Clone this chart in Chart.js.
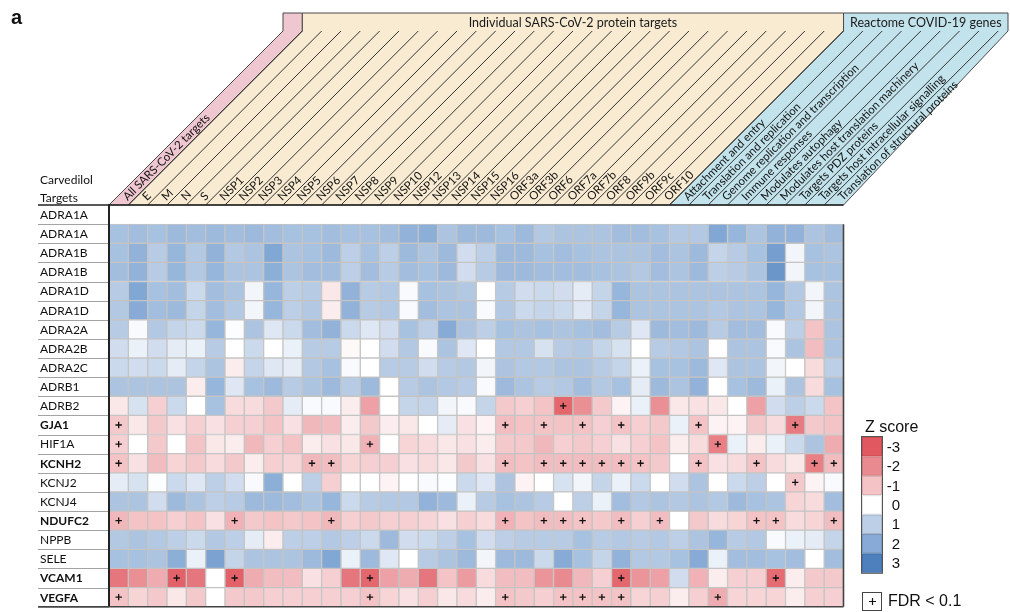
<!DOCTYPE html>
<html>
<head>
<meta charset="utf-8">
<script src="https://cdn.jsdelivr.net/npm/chart.js@4.4.1/dist/chart.umd.min.js"></script>
<style>
  html, body { margin: 0; padding: 0; background: #ffffff; }
  #wrap { width: 1010px; height: 612px; position: relative; }
</style>
</head>
<body>
<div id="wrap"><canvas id="heat" width="1010" height="612"></canvas></div>
<script>
// ---- column categories (SARS-CoV-2 target sets) ----
const columns = ['All SARS-CoV-2 targets','E','M','N','S','NSP1','NSP2','NSP3','NSP4','NSP5','NSP6','NSP7','NSP8','NSP9','NSP10','NSP12','NSP13','NSP14','NSP15','NSP16','ORF3a','ORF3b','ORF6','ORF7a','ORF7b','ORF8','ORF9b','ORF9c','ORF10','Attachment and entry','Translation and replication','Genome replication and transcription','Immune responses','Modulates autophagy','Modulates host translation machinery','Targets PDZ proteins','Targets host intracellular signalling','Translation of structural proteins'];

// ---- column groups shown in the slanted header ----
const groupNames = ['', 'Individual SARS-CoV-2 protein targets', 'Reactome COVID-19 genes'];
const groupStart = [0, 1, 29];
const groupEnd = [1, 29, 38];
const groupFill = ['#efc7d0', '#f8ebd2', '#c2e2ec'];

// ---- row categories (carvedilol targets) ----
const rowLabels = ['ADRA1A','ADRA1A','ADRA1B','ADRA1B','ADRA1D','ADRA1D','ADRA2A','ADRA2B','ADRA2C','ADRB1','ADRB2','GJA1','HIF1A','KCNH2','KCNJ2','KCNJ4','NDUFC2','NPPB','SELE','VCAM1','VEGFA'];
const boldRows = ['GJA1','KCNH2','NDUFC2','VCAM1','VEGFA'];

// ---- Z scores, one array per target row ----
const zADRA1A_1 = new Array(38).fill(null);
const zADRA1A_2 = [1.4,1.5,1.4,1.6,1.5,1.6,1.5,1.6,1.5,1.4,1.4,1.5,1.4, 1.4,1.5,1.8,1.9,1.3,1.6,1.6,1.4,1.6,1.2,1.3,1.3, 1.3,1.5,1.5,1.4,1.2,1.2,2.1,1.7,1.3,1.8,1.8,1.3,1.5];
const zADRA1B_1 = [1.4,1.8,1.1,1.7,1.2,1.8,1.2,1.3,2.1,1.3,1.4,1.6,1.0, 1.4,1.0,1.6,1.3,1.6,0.7,1.0,1.6,1.6,1.4,1.5,1.4, 1.3,1.3,1.3,1.5,1.3,1.6,0.9,1.1,1.4,2.3,0.2,1.4,1.3];
const zADRA1B_2 = [1.5,1.8,1.1,1.7,1.2,1.7,1.3,1.3,1.9,1.3,1.5,1.5,1.0, 1.5,1.1,1.5,1.4,1.6,0.7,1.1,1.6,1.6,1.5,1.5,1.5, 1.4,1.3,1.2,1.5,1.3,1.6,1.0,1.1,1.3,2.5,0.2,1.4,1.4];
const zADRA1D_1 = [1.1,2.1,1.4,1.5,0.8,1.5,1.3,0.2,1.7,1.0,1.1,-0.4,1.8, 1.1,1.2,0.1,1.4,1.3,1.2,0.0,1.1,0.7,0.8,0.7,0.4, 0.9,1.7,1.3,1.3,1.3,1.3,1.3,1.3,1.3,1.7,1.2,0.2,1.3];
const zADRA1D_2 = [1.2,2.0,1.5,1.6,0.9,1.5,1.2,0.2,1.7,1.0,1.2,-0.3,1.8, 1.1,1.2,0.1,1.5,1.3,1.3,0.1,1.2,0.8,0.9,0.8,0.5, 0.9,1.7,1.3,1.3,1.3,1.3,1.2,1.3,1.3,1.7,1.2,0.2,1.3];
const zADRA2A = [1.1,0.1,1.2,0.9,0.8,1.7,0.05,1.3,0.5,0.8,1.5,1.8,0.8, 0.5,0.7,1.4,1.0,2.0,1.3,1.0,1.4,1.3,1.4,1.3,1.4, 1.5,1.1,0.5,1.6,1.5,1.6,1.1,1.5,1.5,0.1,1.0,-1.0,1.3];
const zADRA2B = [0.7,0.3,0.7,0.4,0.3,1.1,0.0,0.8,0.0,0.3,1.1,1.1,-0.1, 0.0,0.7,1.2,0.1,1.3,0.5,0.0,1.2,1.2,0.6,1.1,1.2, 0.9,0.6,0.0,1.1,1.2,1.3,0.0,1.3,1.3,0.1,1.3,-1.1,1.3];
const zADRA2C = [0.8,0.7,0.8,0.4,0.9,1.3,-0.3,0.9,0.5,0.4,1.2,1.4,0.1, 0.0,1.1,1.1,0.7,1.1,1.2,0.2,1.3,1.2,1.2,1.3,1.3, 1.1,0.9,0.3,1.4,1.4,1.6,0.5,1.3,1.3,0.2,0.0,-0.6,1.0];
const zADRB1 = [1.3,1.3,1.3,1.3,-0.3,1.7,0.5,1.4,1.6,1.1,1.3,1.6,1.1, 1.6,0.0,1.1,1.3,1.2,1.1,0.1,1.6,1.3,1.1,1.2,1.5, 1.2,1.4,0.4,1.6,1.3,1.8,0.0,1.4,1.6,0.3,1.3,-0.6,1.4];
const zADRB2 = [-0.4,0.6,-0.8,0.8,0.0,1.4,-0.6,-0.6,-0.9,0.4,0.1,0.1,-0.3, -1.6,0.0,0.9,0.9,0.2,0.1,0.9,-0.9,-0.8,-1.0,-2.7,-1.9, -0.9,-0.2,0.3,-1.9,-0.4,-0.5,-0.4,0.0,-1.6,0.7,1.0,0.8,-1.0];
const zGJA1 = [-0.9,-0.4,-0.9,-0.5,-0.8,-0.5,-0.8,-0.8,-1.0,-0.5,-1.2,-1.1,-0.3, -0.9,-0.3,-0.4,0.0,0.4,-0.5,-0.2,-1.1,-1.0,-1.0,-1.0,-1.0, -0.8,-1.0,-0.8,-0.9,0.3,-1.0,-0.2,-0.2,-0.9,-0.6,-2.3,-0.9,-1.0];
const zHIF1A = [-0.8,0.0,-0.9,0.0,-1.0,-0.4,-0.3,-1.2,-0.8,-1.0,-0.3,-0.5,-0.4, -1.3,0.0,-0.7,-0.6,-0.4,-0.5,-0.3,-0.9,-0.9,-1.2,-0.8,-0.9, -0.8,-0.5,-0.8,-1.0,-0.3,-0.6,-2.2,0.3,-0.3,0.3,0.8,1.3,-1.4];
const zKCNH2 = [-1.0,-0.5,-1.1,-0.7,-0.9,-0.6,-0.9,-0.3,-0.8,-0.7,-1.2,-1.1,-0.7, -0.8,-0.8,-0.5,-0.6,-0.4,-0.9,-0.5,-1.1,-1.0,-1.1,-1.1,-1.1, -1.1,-1.1,-1.0,-0.9,0.0,-1.0,-0.5,-0.6,-1.0,-0.6,-0.4,-2.2,-1.1];
const zKCNJ2 = [0.4,0.6,0.05,0.8,0.5,1.0,0.7,0.1,1.9,0.0,1.0,-0.8,0.0, 0.0,-0.2,0.0,0.1,0.05,0.8,0.5,1.3,-0.2,0.0,0.6,0.2, 0.9,0.3,0.8,0.0,0.7,1.3,0.0,0.8,1.0,0.0,-0.9,-0.2,0.1];
const zKCNJ4 = [1.3,1.3,0.7,1.6,1.3,1.0,1.1,1.6,1.6,1.5,1.3,1.7,0.8, 1.1,1.2,1.2,1.8,1.6,0.3,1.1,1.4,1.3,1.1,0.0,1.0, 0.3,1.5,1.2,1.3,1.2,1.3,1.2,1.6,1.4,1.3,-0.7,-0.6,1.5];
const zNDUFC2 = [-1.2,-1.0,-1.0,-0.8,-1.0,-0.5,-1.3,-0.9,-1.0,-0.9,-1.0,-1.2,-0.8, -0.9,-0.8,-0.8,-0.7,-0.5,-0.8,-0.6,-1.3,-1.0,-1.1,-1.1,-1.0, -0.9,-1.1,-0.8,-1.1,0.0,-0.9,-0.6,-0.7,-1.0,-1.0,-0.6,-0.7,-1.1];
const zNPPB = [1.2,1.3,1.2,1.0,0.8,1.2,1.0,0.4,-0.3,1.0,1.0,1.2,1.0, 0.8,1.6,0.7,0.8,1.0,1.4,0.7,1.0,1.1,1.1,1.1,1.4, 1.1,1.2,1.1,1.2,1.0,1.3,1.7,1.1,1.2,0.1,0.3,0.4,0.9];
const zSELE = [1.4,1.4,1.3,1.9,0.3,2.2,0.9,1.3,1.3,1.3,1.6,2.1,0.3, 1.6,0.5,0.0,1.1,1.3,1.6,0.2,1.6,1.6,0.8,2.0,1.4, 0.9,1.8,1.2,1.2,1.4,2.0,0.3,1.5,1.5,1.4,1.5,0.0,1.5];
const zVCAM1 = [-2.4,-1.9,-1.4,-2.8,-2.4,0.0,-2.8,-1.4,-1.1,-1.1,-0.5,-0.8,-2.4, -2.7,-1.6,-1.4,-2.4,-1.0,-1.7,-0.6,-1.1,-1.1,-1.8,-2.0,-1.2, -0.8,-2.7,-1.8,-1.6,0.7,-1.3,-0.3,-0.8,-0.8,-2.6,-0.3,-0.9,-0.9];
const zVEGFA = [-1.0,-0.7,-0.9,-0.4,-0.9,0.0,-0.9,-0.9,-0.8,-0.8,-0.8,-0.8,-0.8, -1.0,-0.7,-0.5,-0.8,-0.4,-0.6,-0.3,-1.0,-0.9,-0.8,-1.0,-1.0, -1.0,-1.0,-0.7,-0.8,-0.3,-0.8,-1.4,-0.7,-0.7,-0.7,-0.3,-0.8,-0.8];

const zRows = [zADRA1A_1, zADRA1A_2, zADRA1B_1, zADRA1B_2, zADRA1D_1, zADRA1D_2, zADRA2A, zADRA2B, zADRA2C, zADRB1, zADRB2, zGJA1, zHIF1A, zKCNH2, zKCNJ2, zKCNJ4, zNDUFC2, zNPPB, zSELE, zVCAM1, zVEGFA];

// ---- columns with FDR < 0.1, per row ----
const fdrADRB2 = [23];
const fdrGJA1 = [0, 20, 22, 24, 26, 30, 35];
const fdrHIF1A = [0, 13, 31];
const fdrKCNH2 = [0, 10, 11, 20, 22, 23, 24, 25, 26, 27, 30, 33, 36, 37];
const fdrKCNJ2 = [35];
const fdrNDUFC2 = [0, 6, 11, 20, 22, 23, 24, 26, 28, 33, 34, 37];
const fdrVCAM1 = [3, 6, 13, 26, 34];
const fdrVEGFA = [0, 13, 20, 23, 24, 25, 26, 31];
const fdrRows = [[10, fdrADRB2], [11, fdrGJA1], [12, fdrHIF1A], [13, fdrKCNH2], [14, fdrKCNJ2], [16, fdrNDUFC2], [19, fdrVCAM1], [20, fdrVEGFA]];

// ---- colour scale ----
const legendTicks = [-3, -2, -1, 0, 1, 2, 3];
const tickColors = [[226,88,96],[233,138,144],[243,195,198],[255,255,255],[189,207,230],[135,171,214],[78,128,190]];

function zColor(v) {
  const t = Math.max(-3, Math.min(3, v));
  let i = 0;
  while (i < legendTicks.length - 2 && t > legendTicks[i + 1]) i++;
  const f = (t - legendTicks[i]) / (legendTicks[i + 1] - legendTicks[i]);
  const a = tickColors[i], b = tickColors[i + 1];
  const c = a.map((x, k) => Math.round(x + (b[k] - x) * f));
  return 'rgb(' + c.join(',') + ')';
}

const FONT = 'Lato, "Open Sans", sans-serif';
const headTop = 13, slantTop = 31, rightEdge = 1008, labelLeft = 40, tableLeft = 38;

const decorPlugin = {
  id: 'decor',
  afterDraw(chart) {
    const ctx = chart.ctx;
    const area = chart.chartArea;
    const ys = chart.scales.y;
    const n = columns.length;
    const cw = (area.right - area.left) / n;
    const bx = b => area.left + b * cw;
    const top = area.top;
    const S = top - slantTop;

    ctx.save();
    // group bands
    for (let g = 0; g < groupNames.length; g++) {
      const a = groupStart[g], b = groupEnd[g];
      const xr = Math.min(bx(b) + S, rightEdge);
      ctx.beginPath();
      ctx.moveTo(bx(a), top);
      ctx.lineTo(bx(a) + S, slantTop);
      ctx.lineTo(bx(a) + S, headTop);
      ctx.lineTo(xr, headTop);
      ctx.lineTo(xr, slantTop);
      ctx.lineTo(bx(b), top);
      ctx.closePath();
      ctx.fillStyle = groupFill[g];
      ctx.fill();
      ctx.strokeStyle = '#4a4a4a';
      ctx.lineWidth = 1;
      ctx.stroke();
      if (groupNames[g]) {
        ctx.fillStyle = '#1a1a1a';
        ctx.font = '12.5px ' + FONT;
        ctx.textAlign = 'center';
        ctx.textBaseline = 'middle';
        ctx.fillText(groupNames[g], (bx(a) + S + xr) / 2, (headTop + slantTop) / 2 + 1);
      }
    }
    // diagonal column separators
    ctx.strokeStyle = '#333';
    ctx.lineWidth = 1;
    for (let b = 1; b < n; b++) {
      ctx.beginPath();
      ctx.moveTo(bx(b), top);
      ctx.lineTo(bx(b) + S, slantTop);
      ctx.stroke();
    }
    // slanted column labels
    ctx.fillStyle = '#111';
    ctx.font = '11.5px ' + FONT;
    ctx.textAlign = 'left';
    ctx.textBaseline = 'middle';
    const d = 9 / Math.SQRT2;
    for (let c = 0; c < n; c++) {
      const xc = bx(c) + cw / 2;
      ctx.save();
      ctx.translate(xc + d, top - d);
      ctx.rotate(-Math.PI / 4);
      ctx.fillText(columns[c], 0, 0);
      ctx.restore();
    }

    // row label table
    ctx.strokeStyle = '#a3a3a3';
    ctx.lineWidth = 1;
    for (let r = 1; r <= rowLabels.length; r++) {
      const y = Math.round(ys.getPixelForValue(r)) + 0.5;
      ctx.beginPath();
      ctx.moveTo(tableLeft, y);
      ctx.lineTo(area.left, y);
      ctx.stroke();
    }
    ctx.textAlign = 'left';
    ctx.textBaseline = 'middle';
    ctx.fillStyle = '#111';
    rowLabels.forEach((lab, r) => {
      ctx.font = (boldRows.includes(lab) ? 'bold ' : '') + '12px ' + FONT;
      ctx.fillText(lab, labelLeft, ys.getPixelForValue(r + 0.5) + 0.5);
    });
    ctx.font = '12px ' + FONT;
    ctx.fillText('Carvedilol', labelLeft, 180);
    ctx.fillText('Targets', labelLeft, 198);

    // heatmap frame
    ctx.strokeStyle = '#222';
    ctx.lineWidth = 1.6;
    ctx.beginPath();
    ctx.moveTo(tableLeft, top);
    ctx.lineTo(area.right, top);
    ctx.stroke();
    ctx.lineWidth = 2;
    ctx.beginPath();
    ctx.moveTo(area.left, top - 1);
    ctx.lineTo(area.left, area.bottom);
    ctx.stroke();
    ctx.strokeStyle = '#444';
    ctx.lineWidth = 1.6;
    ctx.beginPath();
    ctx.moveTo(area.right, ys.getPixelForValue(1));
    ctx.lineTo(area.right, area.bottom);
    ctx.stroke();
    ctx.beginPath();
    ctx.moveTo(tableLeft, area.bottom);
    ctx.lineTo(area.right, area.bottom);
    ctx.stroke();

    // colour legend
    const lx = 862, lw = 20, ly0 = 437, lh = 19.4;
    ctx.fillStyle = '#111';
    ctx.font = '16px "Liberation Sans", Arial, sans-serif';
    ctx.textAlign = 'left';
    ctx.textBaseline = 'alphabetic';
    ctx.fillText('Z score', 865, 432);
    legendTicks.forEach((t, i) => {
      ctx.fillStyle = zColor(t);
      ctx.fillRect(lx, ly0 + i * lh, lw, lh);
      ctx.strokeStyle = 'rgba(0,0,0,0.12)';
      ctx.lineWidth = 1;
      ctx.strokeRect(lx + 0.5, ly0 + i * lh + 0.5, lw - 1, lh - 1);
      ctx.fillStyle = '#111';
      ctx.font = '15px "Liberation Sans", Arial, sans-serif';
      ctx.textAlign = 'right';
      ctx.textBaseline = 'middle';
      ctx.fillText(String(t), 900, ly0 + (i + 0.5) * lh + 1);
    });
    ctx.strokeStyle = '#555';
    ctx.lineWidth = 1;
    ctx.strokeRect(lx - 0.5, ly0 - 0.5, lw + 1, lh * legendTicks.length + 1);

    // FDR key
    ctx.strokeStyle = '#444';
    ctx.strokeRect(862.5, 592.5, 19, 18);
    ctx.strokeStyle = '#111';
    ctx.lineWidth = 1.2;
    ctx.beginPath();
    ctx.moveTo(869, 601.5); ctx.lineTo(876, 601.5);
    ctx.moveTo(872.5, 598); ctx.lineTo(872.5, 605);
    ctx.stroke();
    ctx.fillStyle = '#111';
    ctx.font = '16px "Liberation Sans", Arial, sans-serif';
    ctx.textAlign = 'left';
    ctx.textBaseline = 'middle';
    ctx.fillText('FDR < 0.1', 888, 602);

    // panel letter
    ctx.font = 'bold 20px "Liberation Sans", Arial, sans-serif';
    ctx.textBaseline = 'alphabetic';
    ctx.fillText('a', 11, 24);
    ctx.restore();
  }
};

function buildChart() {
  const datasets = zRows.map((vals, r) => ({
    type: 'bar',
    data: vals.map(v => (v === null ? null : [r, r + 1])),
    backgroundColor: vals.map(v => (v === null ? 'rgba(0,0,0,0)' : zColor(v))),
    borderColor: '#c4c4c4',
    borderWidth: 1,
    borderSkipped: false,
    grouped: false,
    barPercentage: 1,
    categoryPercentage: 1,
    order: 2
  }));
  const fdrPoints = [];
  fdrRows.forEach(([r, cols]) => cols.forEach(c => fdrPoints.push({ x: columns[c], y: r + 0.5 })));
  datasets.push({
    type: 'line',
    data: fdrPoints,
    showLine: false,
    pointStyle: 'cross',
    pointRadius: 3.2,
    pointBorderColor: '#111',
    pointBackgroundColor: '#111',
    pointBorderWidth: 1.3,
    order: 0
  });

  new Chart(document.getElementById('heat'), {
    type: 'bar',
    data: { labels: columns, datasets },
    options: {
      responsive: false,
      devicePixelRatio: 1,
      animation: false,
      events: [],
      layout: { padding: { left: 109, right: 166.5, top: 205, bottom: 1 } },
      plugins: { legend: { display: false }, tooltip: { enabled: false } },
      scales: {
        x: { type: 'category', labels: columns, display: false, offset: true, grid: { display: false } },
        y: { type: 'linear', min: 0, max: rowLabels.length, reverse: true, display: false, grid: { display: false } }
      }
    },
    plugins: [decorPlugin]
  });
}

if (document.fonts && document.fonts.load) {
  Promise.all([
    document.fonts.load('12px Lato'),
    document.fonts.load('bold 12px Lato'),
    document.fonts.load('16px "Liberation Sans"')
  ]).then(buildChart, buildChart);
} else {
  buildChart();
}
</script>
</body>
</html>
